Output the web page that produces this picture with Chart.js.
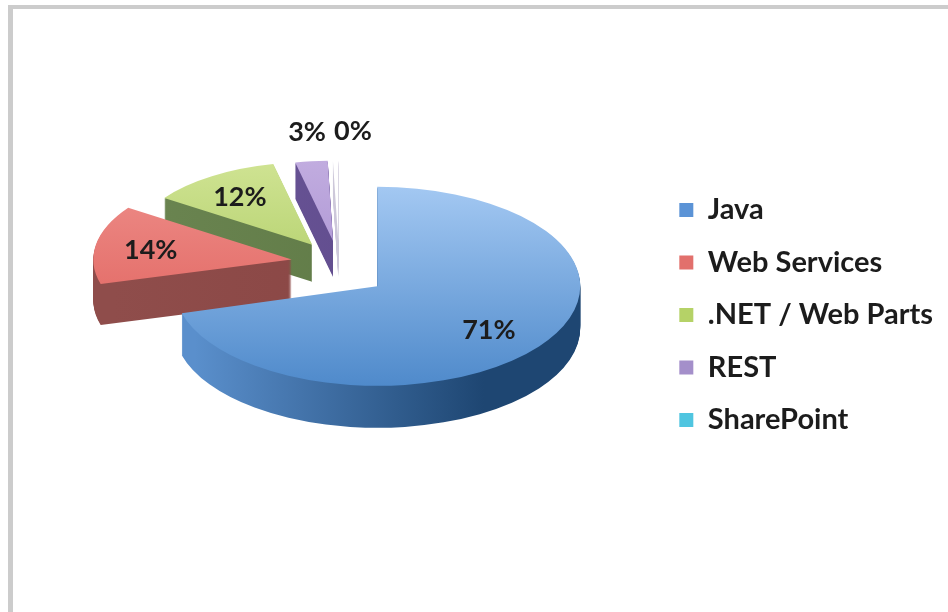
<!DOCTYPE html>
<html>
<head>
<meta charset="utf-8">
<style>
  html, body { margin: 0; padding: 0; background: #fff; }
  #wrap { position: absolute; left: 0; top: 0; width: 948px; height: 612px; overflow: hidden; }
  #frame { position: absolute; left: 8px; top: 5px; width: 940px; height: 607px; border-left: 5px solid #cccccc; border-top: 4px solid #cccccc; box-sizing: border-box; }
  canvas { position: absolute; left: 0; top: 0; filter: blur(0.6px); }
</style>
<script src="https://cdn.jsdelivr.net/npm/chart.js@4"></script>
</head>
<body>
<div id="wrap">
  <div id="frame"></div>
  <canvas id="chart" width="948" height="612"></canvas>
</div>
<script>
const categories = ["Java", "Web Services", ".NET / Web Parts", "REST", "SharePoint"];
const shares = [71, 14, 12, 3, 0.49];
const legendColors = ["#5b93d6", "#e2706c", "#b5d267", "#a48fca", "#4fc5e0"];
const topLight = ["#a3c8f2", "#ee8f8b", "#cfe392", "#c1acdf", "#ffffff"];
const topDark = ["#4f8acb", "#e0615c", "#a9c95f", "#a58dd0", "#ffffff"];
const sideLight = ["#5a8fcc", "#8f4d4b", "#6a8450", "#6b5699", "#cdc8da"];
const sideDark = ["#1e4672", "#8a4644", "#5f7a46", "#5f4b8b", "#cdc8da"];

const pieX = 339, pieY = 263;   // pie middle before the slices are pulled apart
const backSquash = 0.46;        // flattening of the circle, slices behind the middle
const frontSquash = 0.49;       // slices in front look a bit deeper
const frontDrop = 10;
const perspective = 0.14;       // slices at the back get this much smaller
const depth = 42;               // thickness of the pie in pixels
const explode = 48;
const labelFont = "bold 27px Lato";

// vertical gradient over the pie in arc coordinates
const verticalFill = (ctx, arc, c1, c2) => {
  const g = ctx.createLinearGradient(0, arc.y - arc.outerRadius, 0, arc.y + arc.outerRadius);
  g.addColorStop(0, c1);
  g.addColorStop(1, c2);
  return g;
};

const horizontalFill = (ctx, arc, c1, c2) => {
  const g = ctx.createLinearGradient(arc.x - arc.outerRadius * 0.9, 0, arc.x + arc.outerRadius, 0);
  g.addColorStop(0, c1);
  g.addColorStop(0.75, c2);
  g.addColorStop(1, c2);
  return g;
};

// where a slice ends up on the page and how big it is drawn
const slicePlace = (arc) => {
  const mid = (arc.startAngle + arc.endAngle) / 2;
  const front = Math.sin(mid) > 0;
  const squash = front ? frontSquash : backSquash;
  return {
    mid,
    front,
    squash,
    scale: 1 + perspective * Math.min(0, Math.sin(mid)),
    x: pieX + Math.cos(mid) * explode,
    y: pieY + Math.sin(mid) * explode * backSquash + (front ? frontDrop : 0)
  };
};

// draws the arcs back to front, thick side first and then the top face
const pie3d = {
  id: "pie3d",
  beforeDatasetsDraw(chart) {
    const ctx = chart.ctx;
    const arcs = chart.getDatasetMeta(0).data;
    for (let i = arcs.length - 1; i >= 0; i--) {
      const arc = arcs[i];
      const p = slicePlace(arc);
      const base = arc.options;
      const place = (down) => {
        ctx.translate(p.x, p.y + down);
        ctx.scale(p.scale, p.squash * p.scale);
        ctx.translate(-arc.x, -arc.y);
      };
      arc.options = Object.assign({}, base, { backgroundColor: horizontalFill(ctx, arc, sideLight[i], sideDark[i]) });
      const sideDepth = Math.round(depth * p.scale);
      for (let d = sideDepth; d > 0; d--) {
        ctx.save();
        place(d);
        arc.draw(ctx);
        ctx.restore();
      }
      arc.options = Object.assign({}, base, { backgroundColor: verticalFill(ctx, arc, topLight[i], topDark[i]) });
      ctx.save();
      place(0);
      arc.draw(ctx);
      ctx.restore();
      arc.options = base;
    }
    return false;
  },
  // cancelling the datasets draw also skips afterDatasetsDraw, so labels go here
  afterDraw(chart) {
    const ctx = chart.ctx;
    const arcs = chart.getDatasetMeta(0).data;
    ctx.save();
    ctx.font = labelFont;
    ctx.fillStyle = "#1c1c1c";
    ctx.textBaseline = "middle";
    arcs.forEach((arc, i) => {
      const p = slicePlace(arc);
      const text = Math.round(shares[i]) + "%";
      if (shares[i] >= 5) {
        const r = arc.outerRadius * p.scale * (p.front ? 0.69 : 0.72);
        ctx.textAlign = "center";
        ctx.fillText(text, p.x + Math.cos(p.mid) * r, p.y + Math.sin(p.mid) * r * p.squash + 2);
      } else {
        // the two small slices have their labels side by side above the pie
        ctx.textAlign = shares[i] >= 1 ? "right" : "left";
        ctx.fillText(text, pieX + (shares[i] >= 1 ? -13 : -5), p.y - arc.outerRadius * 1.17 * p.squash);
      }
    });
    ctx.restore();
  }
};

new Chart(document.getElementById("chart"), {
  type: "pie",
  data: {
    labels: categories,
    datasets: [{
      data: shares,
      backgroundColor: legendColors,
      borderWidth: 0,
      radius: 203
    }]
  },
  options: {
    responsive: false,
    animation: false,
    layout: { padding: { right: 5, bottom: 0, top: 18 } },
    plugins: {
      tooltip: { enabled: false },
      legend: {
        position: "right",
        labels: {
          font: { family: "Lato", weight: "bold", size: 29 },
          color: "#1c1c1c",
          boxWidth: 14,
          boxHeight: 14,
          padding: 23.5
        }
      }
    }
  },
  plugins: [pie3d]
});
</script>
</body>
</html>
